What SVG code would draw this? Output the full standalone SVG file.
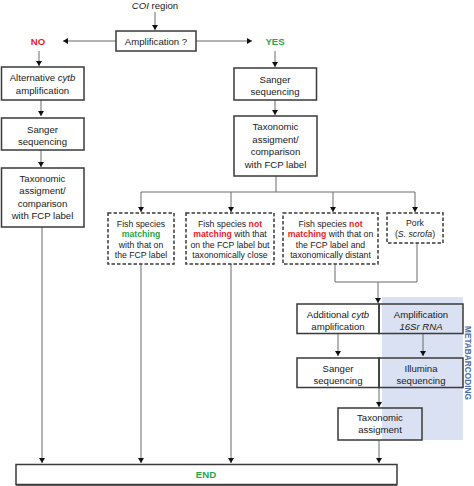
<svg xmlns="http://www.w3.org/2000/svg" width="474" height="486" viewBox="0 0 474 486">
<style>
text{font-family:"Liberation Sans",Arial,sans-serif;fill:#1a1a1a;text-anchor:middle}
.t{font-size:9.6px}
.s{font-size:8.7px}
.box{fill:none;stroke:#3a3a3a;stroke-width:1.5}
.dash{fill:none;stroke:#3a3a3a;stroke-width:1.5;stroke-dasharray:3.5 2}
.ln{fill:none;stroke:#6a6a6a;stroke-width:1}
.red{fill:#e8202a;font-weight:bold}
.grn{fill:#22a84a;font-weight:bold}
</style>
<defs>
<marker id="ah" markerWidth="6" markerHeight="6" refX="5" refY="3" orient="auto" markerUnits="userSpaceOnUse">
<path d="M0,0 L5,3 L0,6 Z" fill="#111"/>
</marker>
</defs>
<rect x="0" y="0" width="474" height="486" fill="#fff"/>
<rect x="382" y="297" width="81" height="143" fill="#d9e1f2"/>
<text x="465" y="363" transform="rotate(90 465 363)" style="font-size:8.3px;font-weight:bold;fill:#4a6ea8">METABARCODING</text>

<g id="connectors">
<path class="ln" d="M155,12 V30" marker-end="url(#ah)"/>
<path class="ln" d="M116,41 H63" marker-end="url(#ah)"/>
<path class="ln" d="M196,41 H252" marker-end="url(#ah)"/>
<path class="ln" d="M39,51 V66" marker-end="url(#ah)"/>
<path class="ln" d="M275,51 V67" marker-end="url(#ah)"/>
<path class="ln" d="M41,100 V116" marker-end="url(#ah)"/>
<path class="ln" d="M41,150 V167" marker-end="url(#ah)"/>
<path class="ln" d="M275,100 V115" marker-end="url(#ah)"/>
<path class="ln" d="M276,176 V192 M141,192 H415"/>
<path class="ln" d="M141,192 V212" marker-end="url(#ah)"/>
<path class="ln" d="M231,192 V212" marker-end="url(#ah)"/>
<path class="ln" d="M333,192 V212" marker-end="url(#ah)"/>
<path class="ln" d="M415,192 V212" marker-end="url(#ah)"/>
<path class="ln" d="M42,227 V463" marker-end="url(#ah)"/>
<path class="ln" d="M141,264 V463" marker-end="url(#ah)"/>
<path class="ln" d="M231,264 V463" marker-end="url(#ah)"/>
<path class="ln" d="M335,264 V282 H417 V243"/>
<path class="ln" d="M378,282 V303" marker-end="url(#ah)"/>
<path class="ln" d="M338,333 V356" marker-end="url(#ah)"/>
<path class="ln" d="M423,333 V356" marker-end="url(#ah)"/>
<path class="ln" d="M379,387 V407" marker-end="url(#ah)"/>
<path class="ln" d="M379,440 V463" marker-end="url(#ah)"/>
</g>

<g id="coi"><text class="t" x="155" y="8.5"><tspan font-style="italic">COI</tspan> region</text></g>
<g id="amp"><rect class="box" x="116" y="31" width="80" height="20"/><text class="t" x="156" y="44.5">Amplification ?</text></g>
<g id="no"><text class="t red" x="38" y="45">NO</text></g>
<g id="yes"><text class="t grn" x="275" y="45">YES</text></g>

<g id="altcytb"><rect class="box" x="1.5" y="67" width="82.5" height="33"/><text class="t" x="42.5" y="81"><tspan>Alternative </tspan><tspan font-style="italic">cytb</tspan></text><text class="t" x="42.5" y="94">amplification</text></g>
<g id="sangerL"><rect class="box" x="1.5" y="118" width="82.5" height="32"/><text class="t" x="42.5" y="132.5">Sanger</text><text class="t" x="42.5" y="145">sequencing</text></g>
<g id="taxL"><rect class="box" x="1.5" y="168" width="82.5" height="59"/><text class="t" x="42.5" y="181.5">Taxonomic</text><text class="t" x="42.5" y="194">assigment/</text><text class="t" x="42.5" y="206.5">comparison</text><text class="t" x="42.5" y="219">with FCP label</text></g>

<g id="sangerR"><rect class="box" x="234" y="68" width="82.5" height="32"/><text class="t" x="275" y="82.5">Sanger</text><text class="t" x="275" y="94.5">sequencing</text></g>
<g id="taxR"><rect class="box" x="234" y="116" width="83" height="60"/><text class="t" x="275.5" y="130">Taxonomic</text><text class="t" x="275.5" y="142.5">assigment/</text><text class="t" x="275.5" y="155">comparison</text><text class="t" x="275.5" y="167.5">with FCP label</text></g>

<g id="match"><rect class="dash" x="108" y="213" width="66" height="51"/><text class="s" x="141" y="226.5">Fish species</text><text class="s grn" x="141" y="237">matching</text><text class="s" x="141" y="247.5">with that on</text><text class="s" x="141" y="258">the FCP label</text></g>
<g id="close"><rect class="dash" x="186" y="213" width="88" height="51"/><text class="s" x="230" y="226.5">Fish species <tspan class="red">not</tspan></text><text class="s" x="230" y="237"><tspan class="red">matching</tspan> with that</text><text class="s" x="230" y="247.5">on the FCP label but</text><text class="s" x="230" y="258">taxonomically close</text></g>
<g id="distant"><rect class="dash" x="283" y="213" width="95" height="51"/><text class="s" x="330.5" y="226.5">Fish species <tspan class="red">not</tspan></text><text class="s" x="330.5" y="237"><tspan class="red">matching</tspan> with that on</text><text class="s" x="330.5" y="247.5">the FCP label and</text><text class="s" x="330.5" y="258">taxonomically distant</text></g>
<g id="pork"><rect class="dash" x="387" y="213" width="56" height="30"/><text class="s" x="415" y="226">Pork</text><text class="s" x="415" y="236.5">(<tspan font-style="italic">S. scrofa</tspan>)</text></g>

<g id="addcytb"><rect class="box" x="297" y="304" width="82" height="29.5"/><text class="t" x="338" y="317.5"><tspan>Additional </tspan><tspan font-style="italic">cytb</tspan></text><text class="t" x="338" y="329.5">amplification</text></g>
<g id="amp16"><rect class="box" x="379" y="304" width="84" height="29.5"/><text class="t" x="421" y="317.5">Amplification</text><text class="t" x="421" y="329.5" font-style="italic">16Sr RNA</text></g>
<g id="sangerB"><rect class="box" x="297" y="358" width="82" height="29.5"/><text class="t" x="338" y="371.5">Sanger</text><text class="t" x="338" y="384">sequencing</text></g>
<g id="illumina"><rect class="box" x="379" y="358" width="84" height="29.5"/><text class="t" x="421" y="371.5">Illumina</text><text class="t" x="421" y="384">sequencing</text></g>
<g id="taxB"><rect class="box" x="338" y="408" width="84" height="32"/><text class="t" x="380" y="421">Taxonomic</text><text class="t" x="380" y="433">assigment</text></g>

<g id="end"><rect class="box" x="16" y="464.5" width="381" height="20"/><path d="M16,485 H397" stroke="#3a3a3a" stroke-width="1.5"/><text class="t grn" x="206" y="478">END</text></g>
</svg>
